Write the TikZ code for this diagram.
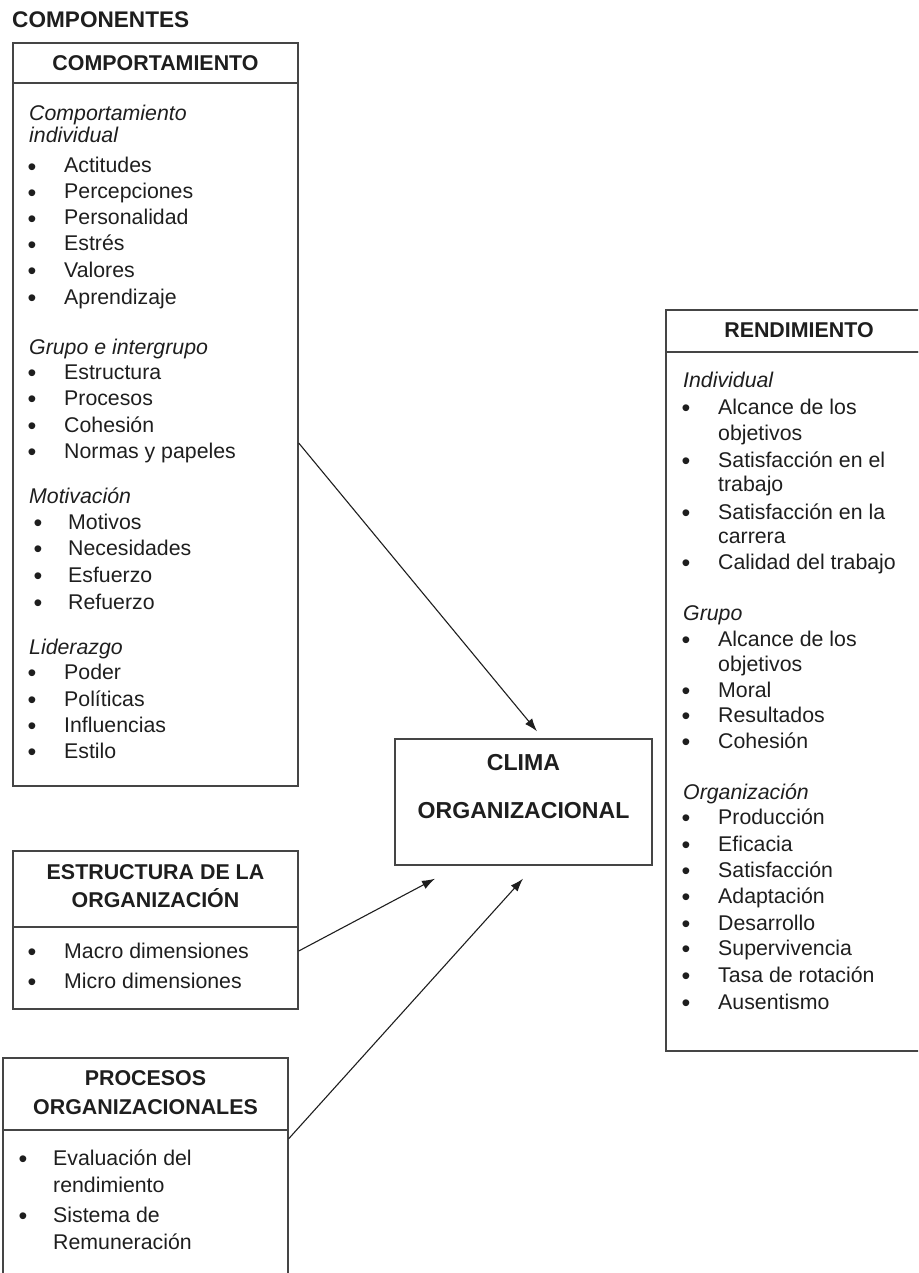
\documentclass[tikz,border=0pt]{standalone}
\usepackage{fontspec}
\setmainfont{Liberation Sans}
\usetikzlibrary{arrows.meta}
\definecolor{ink}{HTML}{1E1E1E}
\definecolor{edge}{HTML}{454545}
\newcommand\myitem[5]{%
  \node[bul] (#1b) at (#2,#4) {•};
  \node[txt] (#1) at (#3,#4) {#5};}
\tikzset{
  txt/.style={font=\fontsize{21.3}{25}\selectfont, inner sep=0pt, anchor=base west, text=ink},
  ital/.style={txt, font=\fontsize{21.3}{25}\selectfont\itshape},
  hdr/.style={font=\fontsize{21.4}{26}\selectfont\bfseries, inner sep=0pt, anchor=base, text=ink},
  bul/.style={txt, anchor=base, font=\fontsize{25}{25}\selectfont, yshift=-2.5pt},
  box/.style={draw=edge, line width=1.4pt, inner sep=0pt, fill=none},
  arr/.style={draw=ink, line width=1.1pt, -{Latex[length=13pt,width=9pt]}}
}
\begin{document}
\begin{tikzpicture}[x=1pt,y=-1pt]
\useasboundingbox (0,0) rectangle (918,1273);
\clip (0,0) rectangle (918,1273);

% title
\node[hdr, anchor=base west, font=\fontsize{22.6}{26}\selectfont\bfseries] (title) at (12,28) {COMPONENTES};

% ---------- COMPORTAMIENTO ----------
\node[box, minimum width=285pt, minimum height=40pt] (comph) at (155.5,63) {};
\node[box, minimum width=285pt, minimum height=703pt] (compb) at (155.5,434.5) {};
\node[hdr] (compt) at (155.5,71) {COMPORTAMIENTO};
\node[ital] (ci1) at (29,121) {Comportamiento};
\node[ital] (ci2) at (29,143) {individual};
\myitem{a1}{32}{64}{173}{Actitudes}
\myitem{a2}{32}{64}{199}{Percepciones}
\myitem{a3}{32}{64}{225}{Personalidad}
\myitem{a4}{32}{64}{251}{Estrés}
\myitem{a5}{32}{64}{277}{Valores}
\myitem{a6}{32}{64}{304}{Aprendizaje}
\node[ital] (cg) at (29,354) {Grupo e intergrupo};
\myitem{g1}{32}{64}{379}{Estructura}
\myitem{g2}{32}{64}{405}{Procesos}
\myitem{g3}{32}{64}{432}{Cohesión}
\myitem{g4}{32}{64}{458}{Normas y papeles}
\node[ital] (cm) at (29,503) {Motivación};
\myitem{m1}{38}{68}{529}{Motivos}
\myitem{m2}{38}{68}{555}{Necesidades}
\myitem{m3}{38}{68}{582}{Esfuerzo}
\myitem{m4}{38}{68}{609}{Refuerzo}
\node[ital] (cl) at (29,654) {Liderazgo};
\myitem{l1}{32}{64}{679}{Poder}
\myitem{l2}{32}{64}{706}{Políticas}
\myitem{l3}{32}{64}{732}{Influencias}
\myitem{l4}{32}{64}{758}{Estilo}

% ---------- ESTRUCTURA ----------
\node[box, minimum width=285pt, minimum height=76pt] (esth) at (155.5,889) {};
\node[box, minimum width=285pt, minimum height=82pt] (estb) at (155.5,968) {};
\node[hdr] (est1) at (155.5,879.5) {ESTRUCTURA DE LA};
\node[hdr] (est2) at (155.5,907.5) {ORGANIZACIÓN};
\myitem{e1}{32}{64}{958}{Macro dimensiones}
\myitem{e2}{32}{64}{988}{Micro dimensiones}

% ---------- PROCESOS ----------
\node[box, minimum width=285pt, minimum height=72pt] (proch) at (145.5,1094) {};
\node[box, minimum width=285pt, minimum height=160pt] (procb) at (145.5,1210) {};
\node[hdr] (pro1) at (145.5,1085.5) {PROCESOS};
\node[hdr] (pro2) at (145.5,1114.5) {ORGANIZACIONALES};
\myitem{p1}{23}{53}{1165}{Evaluación del}
\node[txt] (p1c) at (53,1192) {rendimiento};
\myitem{p2}{23}{53}{1222}{Sistema de}
\node[txt] (p2c) at (53,1249) {Remuneración};

% ---------- CLIMA ----------
\node[box, minimum width=257pt, minimum height=126pt] (clima) at (523.5,802) {};
\node[hdr, font=\fontsize{23.1}{26}\selectfont\bfseries] (cl1) at (523.5,770) {CLIMA};
\node[hdr, font=\fontsize{23.1}{26}\selectfont\bfseries] (cl2) at (523.5,818) {ORGANIZACIONAL};

% ---------- RENDIMIENTO ----------
\node[box, minimum width=266pt, minimum height=42pt] (rendh) at (799,331) {};
\node[box, minimum width=266pt, minimum height=699pt] (rendb) at (799,701.5) {};
\node[hdr] (rendt) at (799,337.5) {RENDIMIENTO};
\node[ital] (ri) at (683,387) {Individual};
\myitem{r1}{686}{718}{414}{Alcance de los}
\node[txt] (r1c) at (718,440) {objetivos};
\myitem{r2}{686}{718}{467}{Satisfacción en el}
\node[txt] (r2c) at (718,491) {trabajo};
\myitem{r3}{686}{718}{519}{Satisfacción en la}
\node[txt] (r3c) at (718,543) {carrera};
\myitem{r4}{686}{718}{569}{Calidad del trabajo}
\node[ital] (rg) at (683,620) {Grupo};
\myitem{s1}{686}{718}{646}{Alcance de los}
\node[txt] (s1c) at (718,671) {objetivos};
\myitem{s2}{686}{718}{697}{Moral}
\myitem{s3}{686}{718}{722}{Resultados}
\myitem{s4}{686}{718}{748}{Cohesión}
\node[ital] (ro) at (683,799) {Organización};
\myitem{o1}{686}{718}{824}{Producción}
\myitem{o2}{686}{718}{851}{Eficacia}
\myitem{o3}{686}{718}{877}{Satisfacción}
\myitem{o4}{686}{718}{903}{Adaptación}
\myitem{o5}{686}{718}{930}{Desarrollo}
\myitem{o6}{686}{718}{955}{Supervivencia}
\myitem{o7}{686}{718}{982}{Tasa de rotación}
\myitem{o8}{686}{718}{1009}{Ausentismo}

% ---------- arrows ----------
\draw[arr] ([yshift=-8.5pt]compb.east) -- ([xshift=13.5pt,yshift=7pt]clima.north);
\draw[arr] ([yshift=17pt]estb.east) -- ([xshift=-88.5pt,yshift=-13pt]clima.south);
\draw[arr] ([yshift=-8pt]proch.south east) -- ([xshift=-0.5pt,yshift=-13pt]clima.south);
\end{tikzpicture}
\end{document}
